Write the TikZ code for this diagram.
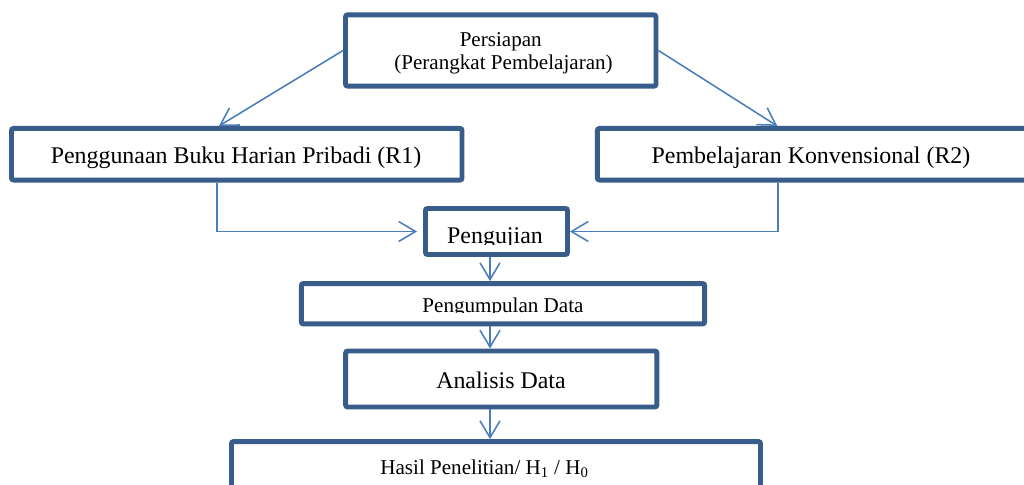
\documentclass[tikz,border=0pt]{standalone}
\usepackage{fontspec}
\setmainfont{Liberation Serif}
\usetikzlibrary{arrows.meta,calc}
\definecolor{boxblue}{HTML}{385D8A}
\definecolor{lineblue}{HTML}{4A7EBB}
\begin{document}
\begin{tikzpicture}[x=0.025cm,y=-0.025cm,
  box/.style={draw=boxblue,line width=3.5pt,rounded corners=1.5pt,fill=white},
  conn/.style={draw=lineblue,line width=1.1pt,-{Straight Barb[length=0.42cm,width=0.5cm]}},
  bigtext/.style={anchor=base,font=\fontsize{17pt}{20pt}\selectfont},
  smalltext/.style={anchor=base,font=\fontsize{15pt}{18pt}\selectfont}]
\tikzstyle{every node}+=[inner sep=0pt]
\useasboundingbox (0,0) rectangle (1024,485);
\clip (0,0) rectangle (1024,485);
\fill [white] (0,0) rectangle (1024,485);
% boxes
\node [box,minimum width=7.76cm,minimum height=1.78cm] (prep) at (500.75,50.5) {};
\node [box,minimum width=11.26cm,minimum height=1.29cm] (r1) at (236.75,154.25) {};
\node [box,minimum width=10.74cm,minimum height=1.29cm] (r2) at (812.25,154.25) {};
\node [box,minimum width=3.55cm,minimum height=1.15cm] (test) at (496.5,231.5) {};
\node [box,minimum width=10.08cm,minimum height=1.01cm] (collect) at (503,303.75) {};
\node [box,minimum width=7.78cm,minimum height=1.4cm] (analysis) at (501.3,379) {};
\node [box,minimum width=13.22cm,minimum height=1.96cm] (result) at (496,480.75) {};
% texts
\node [smalltext] (prepa) at (500.75,46.7) {Persiapan};
\node [smalltext] (prepb) at (503.5,70) {(Perangkat Pembelajaran)};
\node [bigtext] (r1text) at (236,163.3) {Penggunaan Buku Harian Pribadi (R1)};
\node [bigtext] (r2text) at (811,163.3) {Pembelajaran Konvensional (R2)};
\begin{scope}
\clip (425,210) rectangle (568,244.5);
\node [bigtext] (testtext) at (495,243.5) {Pengujian};
\end{scope}
\begin{scope}
\clip (300,285) rectangle (705,312.5);
\node [smalltext] (collecttext) at (503,312) {Pengumpulan Data};
\end{scope}
\node [bigtext] (analysistext) at (501,388) {Analisis Data};
\node [smalltext] (resulttext) at (484.5,474) {Hasil Penelitian/ H\textsubscript{1} / H\textsubscript{0}};
% arrows
\coordinate (axis) at (490,0);
\draw [conn] (prep.west) -- ($(r1.north)+(-17.75,0)$);
\draw [conn] (prep.east) -- ($(r2.north)+(-35,0)$);
\draw [conn,shorten >=0.15cm] ($(r1.south)+(-20,0)$) |- (test.west);
\draw [conn] ($(r2.south)+(-34,0)$) |- (test.east);
\draw [conn] (axis |- test.south) -- (axis |- collect.north);
\draw [conn] (axis |- collect.south) -- (axis |- analysis.north);
\draw [conn] (axis |- analysis.south) -- (axis |- result.north);
\end{tikzpicture}
\end{document}
